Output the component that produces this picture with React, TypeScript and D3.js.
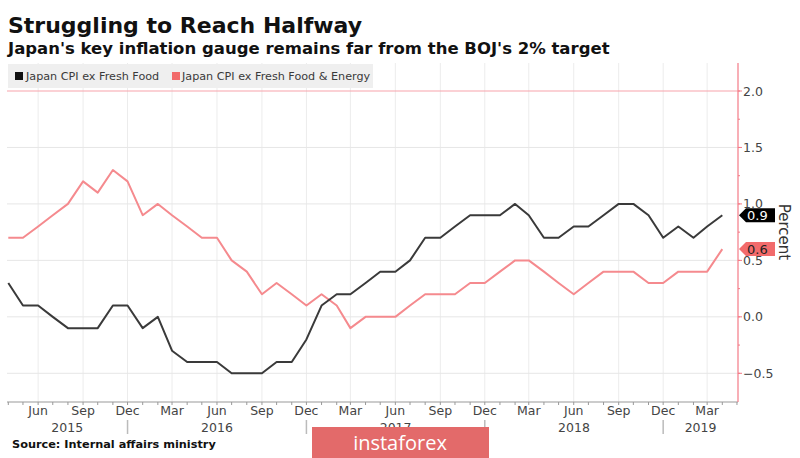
import React from "react";
import * as d3 from "d3";

const startYear = 2015;
const startMonth = 3; // April (0-based)
const coreCPI = [
  0.3, 0.1, 0.1, 0.0, -0.1, -0.1, -0.1, 0.1, 0.1,
  -0.1, 0.0, -0.3, -0.4, -0.4, -0.4, -0.5, -0.5, -0.5, -0.4, -0.4, -0.2,
  0.1, 0.2, 0.2, 0.3, 0.4, 0.4, 0.5, 0.7, 0.7, 0.8, 0.9, 0.9,
  0.9, 1.0, 0.9, 0.7, 0.7, 0.8, 0.8, 0.9, 1.0, 1.0, 0.9, 0.7,
  0.8, 0.7, 0.8, 0.9,
];
const coreCoreCPI = [
  0.7, 0.7, 0.8, 0.9, 1.0, 1.2, 1.1, 1.3, 1.2,
  0.9, 1.0, 0.9, 0.8, 0.7, 0.7, 0.5, 0.4, 0.2, 0.3, 0.2, 0.1,
  0.2, 0.1, -0.1, 0.0, 0.0, 0.0, 0.1, 0.2, 0.2, 0.2, 0.3, 0.3,
  0.4, 0.5, 0.5, 0.4, 0.3, 0.2, 0.3, 0.4, 0.4, 0.4, 0.3, 0.3,
  0.4, 0.4, 0.4, 0.6,
];
const seriesNames = ["Japan CPI ex Fresh Food", "Japan CPI ex Fresh Food & Energy"];
const yTicks = [-0.5, 0.0, 0.5, 1.0, 1.5, 2.0];
const yMinorTicks = [-0.5, -0.25, 0, 0.25, 0.5, 0.75, 1, 1.25, 1.5, 1.75, 2.0];
const years = [2015, 2016, 2017, 2018, 2019];
const target = 2.0;

const FONT = "'DejaVu Sans', Verdana, sans-serif";

export default function App() {
  const dates = coreCPI.map((_, i) => new Date(startYear, startMonth + i, 1));
  const plotLeft = 7;
  const plotRight = 738;
  const plotTop = 63;
  const plotBottom = 402;

  const x = d3
    .scaleTime()
    .domain([dates[0], dates[dates.length - 1]])
    .range([8.3, 722.3]);
  const y = d3.scaleLinear().domain([-0.5, 2.0]).range([373.3, 91]);

  const line = d3
    .line<number>()
    .x((_, i) => x(dates[i]))
    .y((d) => y(d));

  const monthTicks = d3.timeMonth.range(new Date(2015, 3, 1), new Date(2019, 5, 1));
  const quarterTicks = monthTicks.filter((d) => [2, 5, 8, 11].includes(d.getMonth()));
  const monthFmt = d3.timeFormat("%b");

  const separators = years.slice(0, -1).map((yr) => x(new Date(yr, 11, 1)));
  const yearBounds = years.map((yr, i) => {
    const l = i === 0 ? plotLeft : separators[i - 1];
    const r = i === years.length - 1 ? plotRight : separators[i];
    return { yr, cx: (l + r) / 2 };
  });

  const last1 = coreCPI[coreCPI.length - 1];
  const last2 = coreCoreCPI[coreCoreCPI.length - 1];

  const tag = (v: number, fill: string, textFill: string) => {
    const cy = y(v);
    const x0 = plotRight + 1;
    const pts = [
      [x0, cy],
      [x0 + 7, cy - 7],
      [x0 + 36, cy - 7],
      [x0 + 36, cy + 7],
      [x0 + 7, cy + 7],
    ]
      .map((p) => p.join(","))
      .join(" ");
    return (
      <g>
        <polygon points={pts} fill={fill} />
        <text x={x0 + 8} y={cy + 5} fontSize={13} fill={textFill} fontFamily={FONT}>
          {d3.format(".1f")(v)}
        </text>
      </g>
    );
  };

  return (
    <svg
      width={800}
      height={458}
      style={{ position: "absolute", left: 0, top: 0, background: "#fff" }}
      fontFamily={FONT}
    >
      <rect width={800} height={458} fill="#fff" />
      <text x={8} y={33} fontSize={22} fontWeight="bold" fill="#111">
        Struggling to Reach Halfway
      </text>
      <text x={8} y={54} fontSize={16.5} fontWeight="bold" fill="#111">
        Japan's key inflation gauge remains far from the BOJ's 2% target
      </text>

      {/* vertical gridlines */}
      {quarterTicks.map((d, i) => (
        <line
          key={"vg" + i}
          x1={x(d)}
          x2={x(d)}
          y1={plotTop}
          y2={plotBottom}
          stroke="#ececec"
          strokeWidth={1}
        />
      ))}
      {/* horizontal gridlines */}
      {yTicks
        .filter((t) => t !== target)
        .map((t) => (
          <line
            key={"hg" + t}
            x1={plotLeft}
            x2={plotRight}
            y1={y(t)}
            y2={y(t)}
            stroke="#e6e6e6"
            strokeWidth={1}
          />
        ))}

      {/* legend */}
      <rect x={8} y={64} width={365} height={24} fill="#efefef" />
      <rect x={15} y={72} width={8} height={8} fill="#111" />
      <text x={26} y={80} fontSize={11.2} fill="#3a3a3a">
        {seriesNames[0]}
      </text>
      <rect x={172} y={72} width={8} height={8} fill="#f26b6b" />
      <text x={182} y={80} fontSize={11.2} fill="#3a3a3a">
        {seriesNames[1]}
      </text>

      {/* target line */}
      <line x1={plotLeft} x2={plotRight} y1={y(target)} y2={y(target)} stroke="#f7a3ab" strokeWidth={1.2} />

      {/* series */}
      <path d={line(coreCoreCPI) || ""} fill="none" stroke="#f58a8e" strokeWidth={2} strokeLinejoin="round" />
      <path d={line(coreCPI) || ""} fill="none" stroke="#3a3a3a" strokeWidth={2} strokeLinejoin="round" />

      {/* bottom axis */}
      <line x1={plotLeft} x2={plotRight} y1={plotBottom} y2={plotBottom} stroke="#999" strokeWidth={1} />
      {monthTicks.map((d, i) => (
        <line key={"mt" + i} x1={x(d)} x2={x(d)} y1={plotBottom} y2={plotBottom + 3} stroke="#999" />
      ))}
      {quarterTicks.map((d, i) => (
        <text key={"ql" + i} x={x(d)} y={415} fontSize={12.5} textAnchor="middle" fill="#444">
          {monthFmt(d)}
        </text>
      ))}
      {separators.map((sx, i) => (
        <line key={"sep" + i} x1={sx} x2={sx} y1={420} y2={434} stroke="#bbb" strokeWidth={1.5} />
      ))}
      {yearBounds.map((b) => (
        <text key={"yr" + b.yr} x={b.cx} y={432} fontSize={12.5} textAnchor="middle" fill="#444">
          {b.yr}
        </text>
      ))}

      {/* right axis */}
      <line x1={plotRight} x2={plotRight} y1={plotTop} y2={plotBottom} stroke="#f47a86" strokeWidth={1.2} />
      {yMinorTicks.map((t) => (
        <line key={"ymt" + t} x1={plotRight} x2={plotRight + 2} y1={y(t)} y2={y(t)} stroke="#f47a86" />
      ))}
      {yTicks.map((t) => (
        <g key={"yt" + t}>
          <line x1={plotRight} x2={plotRight + 4} y1={y(t)} y2={y(t)} stroke="#f47a86" />
          <text x={743} y={y(t) + 4.5} fontSize={12.5} fill="#444">
            {d3.format(".1f")(t)}
          </text>
        </g>
      ))}
      <text
        transform={`translate(779,232) rotate(90)`}
        fontSize={15}
        textAnchor="middle"
        fill="#333"
      >
        Percent
      </text>

      {tag(last1, "#000", "#fff")}
      {tag(last2, "#f26b6b", "#222")}

      <text x={12} y={448} fontSize={11.3} fontWeight="bold" fill="#111">
        Source: Internal affairs ministry
      </text>

      {/* watermark */}
      <rect x={312} y={427} width={177} height={31} fill="#e36a6a" />
      <text x={400} y={450} fontSize={20} textAnchor="middle" fill="#fff" fontFamily="'Open Sans', sans-serif">
        instaforex
      </text>
    </svg>
  );
}
